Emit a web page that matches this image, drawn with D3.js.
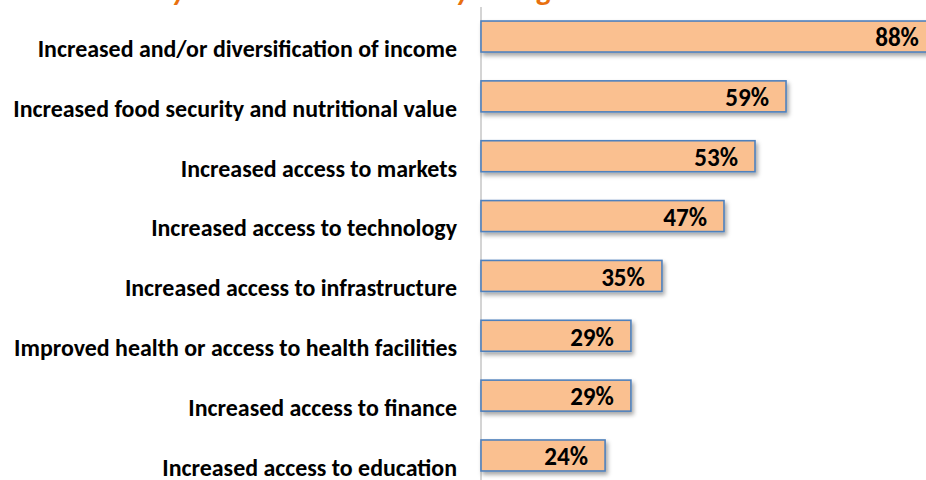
<!DOCTYPE html>
<html>
<head>
<meta charset="utf-8">
<script src="https://cdn.jsdelivr.net/npm/d3@7"></script>
<style>
  html, body { margin: 0; padding: 0; background: #fff; overflow: hidden; }
  svg { display: block; }
</style>
</head>
<body>
<svg id="chart"></svg>
<script>
// chart values
const categories = [
  "Increased and/or diversification of income",
  "Increased food security and nutritional value",
  "Increased access to markets",
  "Increased access to technology",
  "Increased access to infrastructure",
  "Improved health or access to health facilities",
  "Increased access to finance",
  "Increased access to education"
];
const values = [88, 59, 53, 47, 35, 29, 29, 24];
const titleText = "Key outcomes observed by change";

const width = 926, height = 480;
const labelFont = "Carlito, Lato, 'Open Sans', sans-serif";

const svg = d3.select("#chart")
  .attr("width", width)
  .attr("height", height);

// drop shadow like the office chart
const defs = svg.append("defs");
const shadow = defs.append("filter")
  .attr("id", "shadow")
  .attr("x", "-5%").attr("y", "-20%")
  .attr("width", "120%").attr("height", "160%");
shadow.append("feDropShadow")
  .attr("dx", 2).attr("dy", 3)
  .attr("stdDeviation", 2)
  .attr("flood-color", "#000")
  .attr("flood-opacity", 0.35);

const x = d3.scaleLinear()
  .domain([0, 100])
  .range([481, 998]);

const y = d3.scaleBand()
  .domain(categories)
  .range([6.6, 485.4])
  .paddingInner(0.482)
  .paddingOuter(0.241);

// title, cut off at the top so only the descenders show
svg.append("text")
  .attr("x", 142)
  .attr("y", 0)
  .style("font-family", labelFont)
  .style("font-weight", "bold")
  .style("font-style", "italic")
  .style("font-size", "30px")
  .style("fill", "#E8700F")
  .text(titleText);

// vertical axis line
svg.append("line")
  .attr("x1", x(0)).attr("x2", x(0))
  .attr("y1", 7).attr("y2", height)
  .style("stroke", "#D4D4D4")
  .style("stroke-width", 2);

// bars
svg.append("g")
  .selectAll("rect")
  .data(values)
  .join("rect")
  .attr("x", x(0))
  .attr("y", (d, i) => y(categories[i]))
  .attr("width", d => x(d) - x(0))
  .attr("height", y.bandwidth())
  .style("fill", "#FAC090")
  .style("stroke", "#4F81BD")
  .style("stroke-width", 1.6)
  .attr("filter", "url(#shadow)");

// category labels (sit a bit below the bar centres)
const labels = svg.append("g")
  .selectAll("text")
  .data(categories)
  .join("text")
  .attr("x", 457)
  .attr("y", d => y(d) + y.bandwidth() / 2 + 12)
  .attr("dy", "0.35em")
  .style("text-anchor", "end")
  .style("font-family", labelFont)
  .style("font-weight", "bold")
  .style("font-size", "20px")
  .style("fill", "#000")
  .text(d => d);

// shrink the labels so the longest one fits the same width as the picture
const longest = d3.max(labels.nodes(), n => n.getComputedTextLength());
const labelSize = 20 * 444 / longest;
labels.style("font-size", labelSize + "px");

// value labels inside the bars
svg.append("g")
  .selectAll("text")
  .data(values)
  .join("text")
  .attr("x", d => x(d) - 17)
  .attr("y", (d, i) => y(categories[i]) + y.bandwidth() / 2 + 1)
  .attr("dy", "0.35em")
  .style("text-anchor", "end")
  .style("font-family", labelFont)
  .style("font-weight", "bold")
  .style("font-size", (labelSize * 1.05) + "px")
  .style("fill", "#000")
  .text(d => d + "%");
</script>
</body>
</html>
